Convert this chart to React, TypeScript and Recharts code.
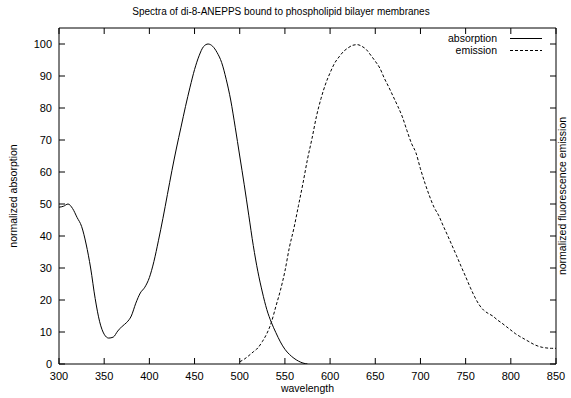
import { LineChart, Line, XAxis, YAxis, Legend } from "recharts"

const absWavelength = [
  300, 305, 310, 315, 320, 325, 330, 335, 340, 345, 350, 355, 360, 365, 370, 375, 380, 385, 390, 395,
  400, 405, 410, 415, 420, 425, 430, 435, 440, 445, 450, 455, 460, 465, 470, 475, 480, 485, 490, 495,
  500, 505, 510, 515, 520, 525, 530, 535, 540, 545, 550, 555, 560, 565, 570, 575,
]
const absValues = [
  49.0, 49.3, 50.0, 48.6, 45.8, 43.0, 37.5, 30.0, 20.5, 13.2, 9.3, 8.1, 8.4, 10.3, 11.8, 13.0, 15.0, 19.0, 22.2, 24.0,
  27.0, 32.0, 38.5, 45.5, 53.0, 60.5, 67.5, 74.0, 80.5, 86.5, 92.0, 96.3, 99.2, 100, 99.3, 97.3, 94.2, 89.0, 82.5, 74.0,
  65.0, 56.0, 46.5, 37.0, 29.0, 22.5, 17.0, 13.0, 9.8, 6.9, 4.6, 3.0, 1.8, 0.9, 0.3, 0,
]

const emWavelength = [
  500, 505, 510, 515, 520, 525, 530, 535, 540, 545, 550, 555, 560, 565, 570, 575, 580, 585, 590, 595,
  600, 605, 610, 615, 620, 625, 630, 635, 640, 645, 650, 655, 660, 665, 670, 675, 680, 685, 690, 695,
  700, 705, 710, 715, 720, 725, 730, 735, 740, 745, 750, 755, 760, 765, 770, 775, 780, 785, 790, 795,
  800, 805, 810, 815, 820, 825, 830, 835, 840, 845, 850,
]
const emValues = [
  0.7, 1.5, 2.6, 3.8, 5.0, 7.0, 9.5, 13.0, 18.0, 23.0, 29.0, 36.5, 42.5, 49.5, 56.5, 64.0, 70.5, 77.5, 83.0, 87.5,
  91.0, 94.0, 96.0, 97.7, 98.8, 99.6, 99.8, 99.3, 98.3, 96.5, 94.6, 92.5, 89.3, 86.5, 83.5, 80.5, 77.2, 73.0, 69.0, 66.0,
  61.0, 56.5, 52.5, 49.0, 46.5, 43.3, 40.2, 37.0, 33.8, 30.5, 27.3, 24.0, 21.0, 18.5, 16.8, 15.8, 15.0, 13.8, 12.8, 11.7,
  10.6, 9.5, 8.6, 7.8, 7.0, 6.2, 5.6, 5.2, 5.0, 4.9, 4.9,
]

const xTicks = [300, 350, 400, 450, 500, 550, 600, 650, 700, 750, 800, 850]
const yTicks = [0, 10, 20, 30, 40, 50, 60, 70, 80, 90, 100]

const absData = absWavelength.map((wl, i) => ({ wl, absorption: absValues[i] }))
const emData = emWavelength.map((wl, i) => ({ wl, emission: emValues[i] }))

const font = "'Liberation Sans', Arial, sans-serif"
const tickStyle = { fontSize: 11, fill: "#000", fontFamily: font }
// mirrored axes keep their tick marks but draw no numbers
const noLabel = () => <g />

function SpectraLegend() {
  return (
    <svg width={150} height={28} style={{ fontFamily: font, fontSize: 10.5 }}>
      <text x={97} y={11} textAnchor="end" fill="#000">absorption</text>
      <line x1={110} x2={142} y1={7.5} y2={7.5} stroke="#000" strokeWidth={1} />
      <text x={97} y={23} textAnchor="end" fill="#000">emission</text>
      <line x1={110} x2={142} y1={19.5} y2={19.5} stroke="#000" strokeWidth={1} strokeDasharray="3 2" />
    </svg>
  )
}

export default function App() {
  return (
    <div style={{ position: "absolute", left: 0, top: 0, width: 571, height: 398, background: "#fff" }}>
      <div
        style={{
          position: "absolute",
          top: 6,
          left: 0,
          width: 562,
          textAlign: "center",
          fontFamily: font,
          fontSize: 10,
          color: "#000",
        }}
      >
        Spectra of di-8-ANEPPS bound to phospholipid bilayer membranes
      </div>
      <LineChart width={571} height={398} margin={{ top: 27, right: 0, bottom: 0, left: 0 }}>
        <XAxis
          dataKey="wl"
          type="number"
          domain={[300, 850]}
          ticks={xTicks}
          interval={0}
          allowDataOverflow
          height={34}
          stroke="#000"
          tickSize={-6}
          tickMargin={14}
          tick={tickStyle}
          label={{ value: "wavelength", position: "insideBottom", offset: 6, fontSize: 10.5, fill: "#000", fontFamily: font }}
        />
        <XAxis
          xAxisId="top"
          orientation="top"
          dataKey="wl"
          type="number"
          domain={[300, 850]}
          ticks={xTicks}
          interval={0}
          allowDataOverflow
          height={1}
          stroke="#000"
          tickSize={-6}
          tick={noLabel}
        />
        <YAxis
          type="number"
          domain={[0, 105]}
          ticks={yTicks}
          interval={0}
          allowDataOverflow
          width={59}
          stroke="#000"
          tickSize={-6}
          tickMargin={13}
          tick={tickStyle}
          label={{
            value: "normalized absorption",
            angle: -90,
            position: "center",
            dx: -16,
            fontSize: 10.5,
            fill: "#000",
            fontFamily: font,
          }}
        />
        <YAxis
          yAxisId="right"
          orientation="right"
          type="number"
          domain={[0, 105]}
          ticks={yTicks}
          interval={0}
          allowDataOverflow
          width={15}
          stroke="#000"
          tickSize={-6}
          tick={noLabel}
          label={{
            value: "normalized fluorescence emission",
            angle: -90,
            position: "center",
            dx: -1,
            fontSize: 10.5,
            fill: "#000",
            fontFamily: font,
          }}
        />
        <Legend
          layout="horizontal"
          verticalAlign="middle"
          content={() => <SpectraLegend />}
          wrapperStyle={{ top: 31, left: 400, width: 150, height: 28 }}
        />
        <Line
          data={absData}
          dataKey="absorption"
          type="monotone"
          stroke="#000"
          strokeWidth={1}
          dot={false}
          isAnimationActive={false}
        />
        <Line
          data={emData}
          dataKey="emission"
          xAxisId="top"
          yAxisId="right"
          type="monotone"
          stroke="#000"
          strokeWidth={1}
          strokeDasharray="3 2"
          dot={false}
          isAnimationActive={false}
        />
      </LineChart>
    </div>
  )
}
